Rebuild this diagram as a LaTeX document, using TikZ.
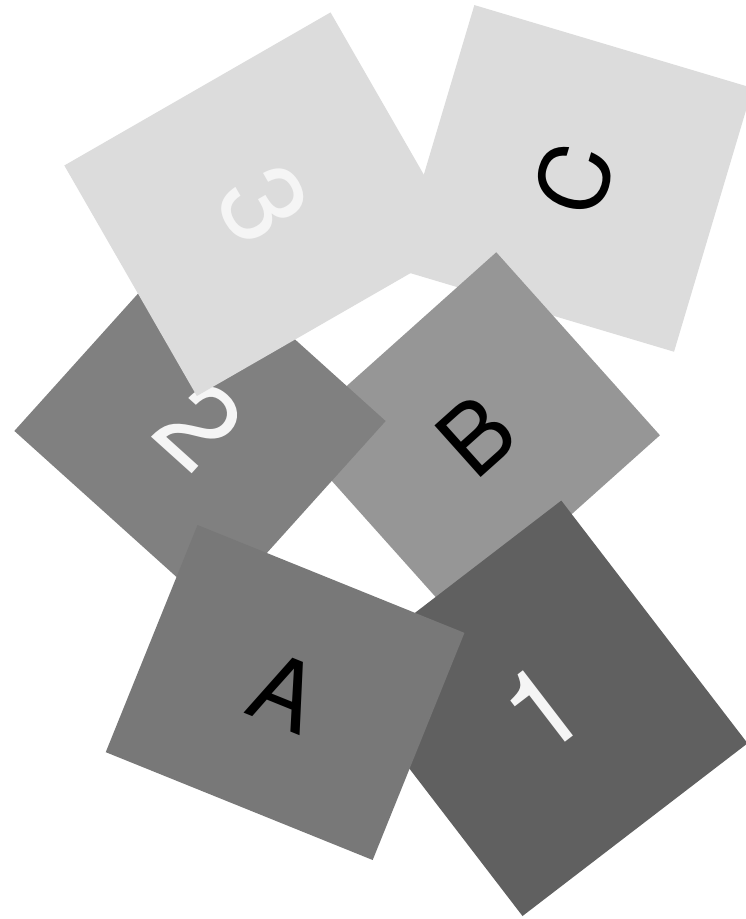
\documentclass[tikz,border=0pt]{standalone}
\usepackage{fontspec}
\setmainfont{TeX Gyre Heros}
\definecolor{cLight}{HTML}{DCDCDC}
\definecolor{cB}{HTML}{969696}
\definecolor{cTwo}{HTML}{808080}
\definecolor{cA}{HTML}{787878}
\definecolor{cOne}{HTML}{606060}
\definecolor{cDigit}{HTML}{F5F5F5}
\tikzset{
  card/.style={rectangle, inner sep=0pt, outer sep=0pt, draw=none},
  letterlabel/.style={font=\fontsize{95}{95}\selectfont, text=black},
  digitlabel/.style={font=\fontsize{116}{116}\selectfont, text=cDigit}
}
\begin{document}
\begin{tikzpicture}[x=1pt,y=1pt]
\useasboundingbox (0,0) rectangle (746,-919);
\clip (0,0) rectangle (746,-919);
\node[card, fill=cLight, minimum width=275.2pt, minimum height=290.4pt, rotate=73.4, letterlabel] (C) at (574.2,-178.4) {C};
\node[card, fill=cB, minimum width=275pt, minimum height=245.5pt, rotate=41.8, letterlabel] (B) at (475.6,-435.4) {B};
\node[card, fill=cTwo, minimum width=269.3pt, minimum height=255.8pt, rotate=-42, digitlabel] (n2) at (200,-426) {2};
\node[card, fill=cLight, minimum width=265.9pt, minimum height=307.1pt, rotate=-60.1, digitlabel] (n3) at (263.7,-204.2) {3};
\node[card, fill=cOne, minimum width=283.7pt, minimum height=306pt, rotate=37.5, digitlabel] (n1) at (541.9,-708.3) {1};
\node[card, fill=cA, minimum width=287.9pt, minimum height=245pt, rotate=-22, letterlabel] (A) at (285.1,-692.5) {A};
\end{tikzpicture}
\end{document}
